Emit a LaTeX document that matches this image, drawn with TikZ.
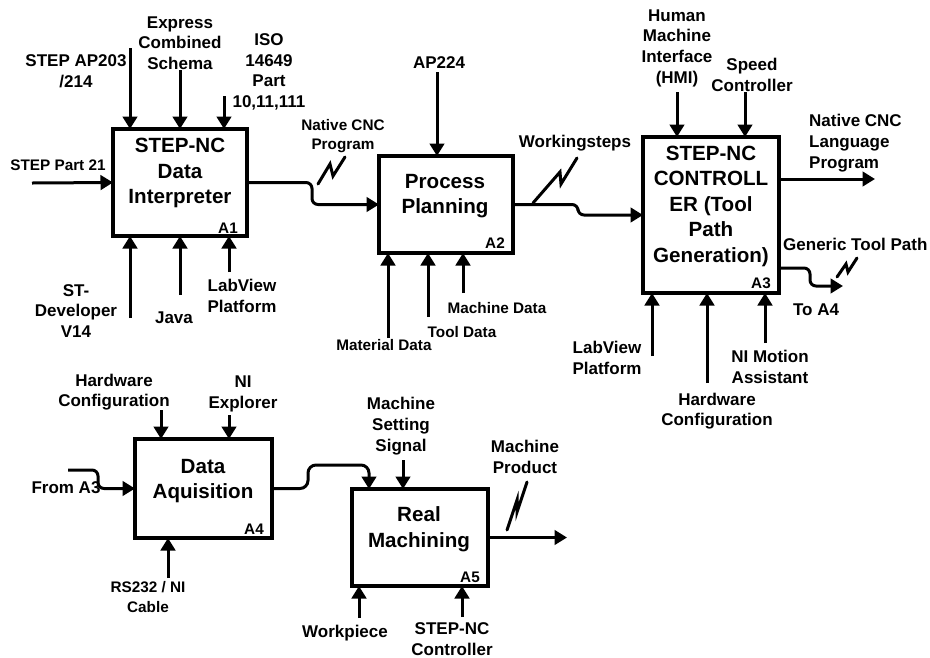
\documentclass[tikz,border=0pt]{standalone}
\usepackage{fontspec}
\setmainfont{Liberation Sans}
\usetikzlibrary{arrows.meta,calc}
\begin{document}
\begin{tikzpicture}[x=1pt,y=-1pt,
  box/.style={draw, line width=3.2pt, outer sep=0pt, inner sep=0pt},
  ttl/.style={font=\fontsize{20.6}{25.5}\selectfont\bfseries, align=center, inner sep=0pt},
  lab/.style={font=\fontsize{17}{20.7}\selectfont\bfseries, align=center, inner sep=0pt},
  sml/.style={font=\fontsize{15.3}{19.5}\selectfont\bfseries, align=center, inner sep=0pt},
  arr/.style={line width=3pt, -{Triangle[length=12.5pt,width=14.5pt]}},
  zig/.style={line width=3pt, line join=miter, line cap=round}]

\useasboundingbox (0,0) rectangle (930,657);

% boxes
\node[box, minimum width=134pt, minimum height=107pt] (A1) at (180,182.5) {};
\node[box, minimum width=134pt, minimum height=97pt] (A2) at (446,204.5) {};
\node[box, minimum width=136pt, minimum height=156pt] (A3) at (711,215) {};
\node[box, minimum width=137pt, minimum height=99pt] (A4) at (203.5,488.5) {};
\node[box, minimum width=136pt, minimum height=97pt] (A5) at (420,537.5) {};

% titles
\node[ttl] (A1t) at (180,173) {STEP-NC\\Data\\Interpreter};
\node[ttl] (A2t) at (445,196) {Process\\Planning};
\node[ttl] (A3t) at (711,206) {STEP-NC\\CONTROLL\\ER (Tool\\Path\\Generation)};
\node[ttl] (A4t) at (203,481) {Data\\Aquisition};
\node[ttl] (A5t) at (419,529) {Real\\Machining};

% codes
\node[sml] (c1) at (228,228) {A1};
\node[sml] (c2) at (495,243) {A2};
\node[sml] (c3) at (761,283) {A3};
\node[sml] (c4) at (254,529) {A4};
\node[sml] (c5) at (470,577) {A5};

% ---- A1
\coordinate (in21) at (32,183);
\draw[arr] (in21) -- (A1.west);
\coordinate (ap203) at (130,48);
\draw[arr] (ap203) -- ($(A1.north west)+(17,0)$);
\coordinate (expr) at (180,70);
\draw[arr] (expr) -- (A1.north);
\coordinate (iso) at (224,96);
\draw[arr] (iso) -- ($(A1.north east)+(-23,0)$);
\coordinate (stdev) at (130,318);
\draw[arr] (stdev) -- ($(A1.south west)+(17,0)$);
\coordinate (java) at (180,295);
\draw[arr] (java) -- (A1.south);
\coordinate (lv1) at (229,272);
\draw[arr] (lv1) -- ($(A1.south east)+(-18,0)$);

\node[sml] (l21) at (58,165) {STEP Part 21};
\node[lab] (lap) at (76,71) {STEP AP203\\/214};
\node[lab] (lexp) at (180,43) {Express\\Combined\\Schema};
\node[lab] (liso) at (269,72) {ISO\\14649\\Part\\10,11,111};
\node[lab] (lstd) at (76,311) {ST-\\Developer\\V14};
\node[lab] (ljava) at (174,318) {Java};
\node[lab] (llv1) at (242,296) {LabView\\Platform};

% ---- A1 -> A2
\draw[arr, rounded corners=6pt] (A1.east) -- ++(65,0) |- (A2.west);
\node[sml] (lnat) at (343,136) {Native CNC\\Program};
\draw[zig] (318,184) -- ++(12,-20) -- ++(3,12) -- ++(12,-19);

% ---- A2
\coordinate (ap224) at (437,72);
\draw[arr] (ap224) -- ($(A2.north west)+(58,0)$);
\node[lab] (lap224) at (439,63) {AP224};
\coordinate (mat) at (388,338);
\draw[arr] (mat) -- ($(A2.south west)+(9,0)$);
\coordinate (tool) at (428,317);
\draw[arr] (tool) -- ($(A2.south west)+(49,0)$);
\coordinate (mach) at (463,293);
\draw[arr] (mach) -- ($(A2.south west)+(84,0)$);
\node[sml] (lmat) at (384,345) {Material Data};
\node[sml] (ltool) at (462,332) {Tool Data};
\node[sml] (lmach) at (497,308) {Machine Data};

% ---- A2 -> A3
\draw[arr, rounded corners=6pt] (A2.east) -- ++(65,0) |- (A3.west);
\node[lab] (lws) at (575,143) {Workingsteps};
\draw[zig] (533,203) -- ++(27,-31) -- ++(1,12) -- ++(16,-26);

% ---- A3
\coordinate (hmi) at (677,92);
\draw[arr] (hmi) -- ($(A3.north west)+(34,0)$);
\coordinate (spd) at (745,92);
\draw[arr] (spd) -- ($(A3.north west)+(102,0)$);
\node[lab] (lhmi) at (677,48) {Human\\Machine\\Interface\\(HMI)};
\node[lab] (lspd) at (752,75) {Speed\\Controller};
\coordinate (ncout) at (875,179);
\draw[arr] ($(A3.north east)+(0,42)$) -- (ncout);
\node[lab, anchor=west, align=left] (lnc) at (809,143) {Native CNC\\Language\\Program};
\coordinate (toA4) at (843,286);
\draw[arr, rounded corners=6pt] ($(A3.south east)+(0,-25)$) -- ++(31,0) |- (toA4);
\node[lab, anchor=west] (lgen) at (783,244) {Generic Tool Path};
\node[lab] (lto) at (816,310) {To A4};
\draw[zig] (837,277) -- ++(9,-13) -- ++(2,8) -- ++(9,-14);
\coordinate (lv3) at (652,356);
\draw[arr] (lv3) -- ($(A3.south west)+(9,0)$);
\coordinate (hw3) at (707,383);
\draw[arr] (hw3) -- ($(A3.south west)+(64,0)$);
\coordinate (nim) at (765,343);
\draw[arr] (nim) -- ($(A3.south west)+(122,0)$);
\node[lab] (llv3) at (607,358) {LabView\\Platform};
\node[lab] (lhw3) at (717,411) {Hardware\\Configuration};
\node[lab] (lnim) at (770,367) {NI Motion\\Assistant};

% ---- A4
\coordinate (hw4) at (161,410);
\draw[arr] (hw4) -- ($(A4.north west)+(26,0)$);
\coordinate (nie) at (229,415);
\draw[arr] (nie) -- ($(A4.north west)+(94,0)$);
\node[lab] (lhw4) at (114,392) {Hardware\\Configuration};
\node[lab] (lnie) at (243,394) {NI\\Explorer};
\coordinate (fa3) at (68,470);
\draw[arr, rounded corners=6pt] (fa3) -- ++(30,0) |- (A4.west);
\node[lab] (lfa3) at (66,488) {From A3};
\coordinate (rs) at (168,578);
\draw[arr] (rs) -- ($(A4.south west)+(33,0)$);
\node[sml] (lrs) at (148,597) {RS232 / NI\\Cable};

% ---- A4 -> A5
\draw[arr, rounded corners=8pt] (A4.east) -- ++(36,0) -- ++(0,-23.5) -| ($(A5.north west)+(17,0)$);

% ---- A5
\coordinate (mss) at (403,460);
\draw[arr] (mss) -- ($(A5.north west)+(51,0)$);
\node[lab] (lmss) at (401,426) {Machine\\Setting\\Signal};
\coordinate (prod) at (567,537.5);
\draw[arr] (A5.east) -- (prod);
\node[lab] (lprod) at (525,457) {Machine\\Product};
\draw[zig] (507,530) -- ++(10,-30) -- ++(0,12) -- ++(10,-30);
\coordinate (wp) at (359,618);
\draw[arr] (wp) -- ($(A5.south west)+(7,0)$);
\coordinate (snc) at (462,617);
\draw[arr] (snc) -- ($(A5.south west)+(110,0)$);
\node[lab] (lwp) at (345,633) {Workpiece};
\node[lab] (lsnc) at (452,639) {STEP-NC\\Controller};
\end{tikzpicture}
\end{document}
